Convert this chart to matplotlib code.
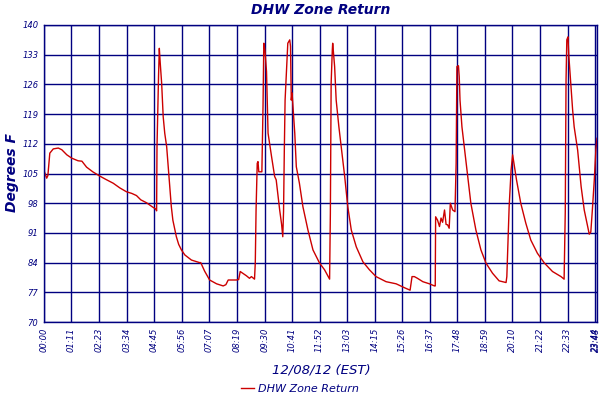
import matplotlib
matplotlib.use("Agg")
import matplotlib.pyplot as plt

# minutes since midnight and temperature
minutes = [1, 7, 10, 15, 24, 37, 46, 59, 72, 88, 98, 110, 126, 144, 160, 179, 196, 213, 227, 239,
           250, 265, 279, 289, 291, 292, 296, 298, 300, 304, 308, 312, 317, 321, 325, 329, 333, 342,
           348, 355, 364, 381, 402, 405, 415, 428, 446, 463, 470, 476, 497, 503, 507, 523, 531, 536,
           544, 546, 548, 551, 553, 555, 563, 566, 568, 571, 575, 579, 588, 596, 600, 609, 614, 617,
           619, 621, 623, 630, 635, 637, 639, 641, 648, 652, 660, 669, 682, 695, 712, 725, 738, 740,
           742, 745, 746, 751, 755, 762, 768, 777, 785, 794, 807, 824, 841, 858, 884, 910, 931, 946,
           951, 957, 965, 979, 996, 1009, 1011, 1012, 1017, 1022, 1026, 1030, 1035, 1039, 1043, 1047,
           1050, 1056, 1062, 1065, 1067, 1071, 1073, 1075, 1080, 1086, 1095, 1103, 1116, 1129, 1142,
           1159, 1176, 1194, 1196, 1198, 1202, 1207, 1211, 1215, 1221, 1232, 1245, 1258, 1275, 1293,
           1314, 1336, 1344, 1347, 1349, 1351, 1354, 1356, 1357, 1361, 1366, 1370, 1379, 1388, 1396,
           1405, 1409, 1413, 1417, 1422, 1426, 1429]
temps = [105.4, 103.9, 104.5, 109.8, 110.8, 111.0, 110.6, 109.4, 108.6, 108.0, 107.9, 106.5, 105.4,
         104.4, 103.6, 102.7, 101.6, 100.7, 100.3, 99.8, 98.8, 98.1, 97.2, 96.6, 96.2, 111.3, 128.0,
         134.5, 131.5, 126.3, 118.4, 114.5, 111.3, 106.5, 101.9, 97.2, 94.0, 90.1, 88.3, 87.0, 85.8,
         84.6, 84.0, 84.0, 82.0, 79.9, 79.0, 78.5, 78.8, 79.9, 79.9, 80.0, 81.9, 80.9, 80.3, 80.7,
         80.1, 84.0, 96.4, 107.4, 107.8, 105.4, 105.4, 121.0, 135.7, 134.0, 129.0, 114.5, 109.0,
         104.3, 103.5, 96.4, 93.0, 90.1, 96.0, 110.5, 122.3, 135.7, 136.5, 135.0, 122.3, 124.0,
         114.5, 106.6, 102.7, 97.2, 91.7, 87.0, 83.9, 82.3, 80.1, 95.6, 126.3, 134.1, 135.7, 130.2,
         122.3, 116.0, 111.3, 104.3, 97.2, 91.7, 87.7, 84.2, 82.3, 80.7, 79.5, 79.0, 78.1, 77.5,
         80.7, 80.7, 80.3, 79.5, 79.0, 78.5, 78.5, 94.8, 94.0, 92.5, 94.5, 93.5, 96.4, 93.0, 92.9,
         92.1, 98.0, 96.4, 96.0, 107.4, 130.2, 130.4, 127.8, 122.3, 116.0, 111.3, 104.3, 98.0, 91.7,
         87.0, 83.9, 81.5, 79.7, 79.3, 80.7, 86.2, 97.2, 105.8, 109.4, 107.0, 103.5, 98.0, 93.3,
         89.3, 86.2, 83.9, 81.9, 80.7, 80.1, 96.0, 127.0, 136.5, 137.2, 133.0, 131.7, 126.3, 120.0,
         116.0, 110.5, 101.9, 96.4, 92.5, 90.7, 91.2, 96.4, 103.5, 110.5, 113.3]

time_labels = ["00:00", "01:11", "02:23", "03:34", "04:45", "05:56", "07:07", "08:19", "09:30",
               "10:41", "11:52", "13:03", "14:15", "15:26", "16:37", "17:48", "18:59", "20:10",
               "21:22", "22:33", "23:44", "23:48"]
y_ticks = [70, 77, 84, 91, 98, 105, 112, 119, 126, 133, 140]

navy = "#000080"
tick_pos = [int(s[:2]) * 60 + int(s[3:]) for s in time_labels]

fig = plt.figure(figsize=(6, 4), dpi=100)
ax = fig.add_axes([44 / 600, 1 - 322 / 400, 553 / 600, 297 / 400])

ax.plot(minutes, temps, color="#cc0000", linewidth=1.0, label="DHW Zone Return")

ax.set_xlim(0, 1429)
ax.set_ylim(70, 140)
ax.set_xticks(tick_pos)
ax.set_xticklabels(time_labels, rotation=90, fontsize=6, style="italic", color=navy)
ax.set_yticks(y_ticks)
ax.set_yticklabels([str(v) for v in y_ticks], fontsize=6, style="italic", color=navy)
ax.tick_params(length=0, pad=4)
ax.grid(True, color=navy, linewidth=1.0)
ax.set_axisbelow(True)
for sp in ax.spines.values():
    sp.set_color(navy)
    sp.set_linewidth(1.0)

fig.text(321 / 600, 1 - 10 / 400, "DHW Zone Return", ha="center", va="center",
         fontsize=10, fontweight="bold", style="italic", color=navy)
fig.text(12 / 600, 1 - 173 / 400, "Degrees F", ha="center", va="center", rotation=90,
         fontsize=10, fontweight="bold", style="italic", color=navy)
fig.text(321 / 600, 1 - 370 / 400, "12/08/12 (EST)", ha="center", va="center",
         fontsize=9.5, style="italic", color=navy)

leg = fig.legend(loc="center", bbox_to_anchor=(300 / 600, 1 - 389 / 400), frameon=False,
                 prop={"size": 8, "style": "italic"}, handlelength=1.2, handletextpad=0.4)
for t in leg.get_texts():
    t.set_color(navy)

fig.savefig("out.png", dpi=100)
